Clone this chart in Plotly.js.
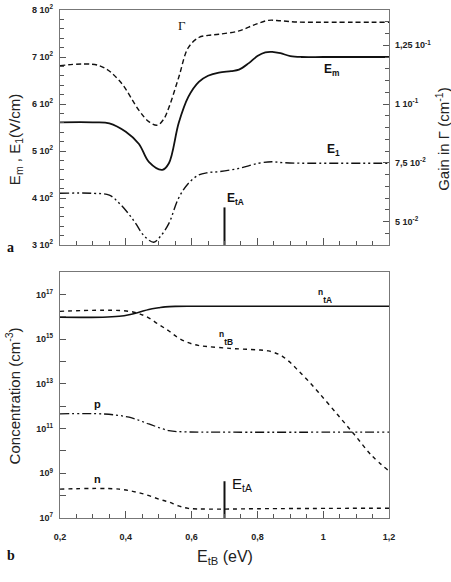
<!DOCTYPE html>
<html><head><meta charset="utf-8">
<script src="https://cdn.plot.ly/plotly-3.0.1.min.js"></script>
<style>html,body{margin:0;padding:0;background:#fff;}#chart{width:451px;height:582px;}</style>
</head><body><div id="chart"></div>
<script>
// ---- Panel a data ----
const emX = [0.2,0.3,0.35,0.4,0.44,0.47,0.511,0.531,0.561,0.59,0.622,0.65,0.683,0.72,0.744,0.774,0.80,0.824,0.845,0.87,0.9,0.934,1.0,1.1,1.2];
const emY = [561,561,559,541,515,477,460,474,560,615,647,660,667,670,673,687,702,710,711,708,702,700,700,700,700];
const gamX = [0.2,0.32,0.38,0.44,0.47,0.496,0.515,0.531,0.561,0.59,0.622,0.65,0.683,0.744,0.794,0.834,0.87,0.92,1.0,1.2];
const gamY = [0.1163,0.1163,0.110,0.0973,0.0925,0.091,0.0935,0.0985,0.1114,0.124,0.1283,0.1292,0.1297,0.1311,0.1339,0.1356,0.1354,0.1349,0.1348,0.1348];
const e1X = [0.2,0.3,0.35,0.38,0.41,0.43,0.455,0.485,0.505,0.531,0.56,0.59,0.622,0.65,0.683,0.744,0.804,0.844,0.88,0.95,1.2];
const e1Y = [410,410,406,389,365,346,320,306,318,346,399,431,449,454,456,463,474,477,475,474,474];
const etA = 0.7;
const etAMarkTop = [300,380];
// ---- Panel b data ----
const ntAX = [0.2,0.33,0.38,0.41,0.44,0.47,0.5,0.52,0.55,0.6,0.8,1.0,1.2];
const ntAY = [9.5e15,9.5e15,1.05e16,1.23e16,1.58e16,2.1e16,2.5e16,2.75e16,2.9e16,2.95e16,2.95e16,2.95e16,2.95e16];
const ntBX = [0.2,0.41,0.46,0.5,0.531,0.56,0.59,0.62,0.65,0.7,0.733,0.8,0.834,0.864,0.875,0.9,0.925,0.95,0.986,1.046,1.097,1.147,1.2];
const ntBY = [1.74e16,1.74e16,1.05e16,4.5e15,2.3e15,1.12e15,6.9e14,5.2e14,4.6e14,4.0e14,3.7e14,3.3e14,2.95e14,2.1e14,1.74e14,8.9e13,3.8e13,1.6e13,4.1e12,3.8e11,4.9e10,6.3e9,1.26e9];
const pX = [0.2,0.33,0.41,0.47,0.531,0.58,0.65,1.2];
const pY = [4.5e11,4.5e11,3.2e11,1.6e11,8.1e10,7.1e10,6.9e10,6.9e10];
const nX = [0.2,0.38,0.45,0.51,0.531,0.56,0.59,0.65,0.8,1.2];
const nY = [1.95e8,1.95e8,1.23e8,6.3e7,5.2e7,3.5e7,2.7e7,2.5e7,2.6e7,2.75e7];
const etAMarkBot = [1e7,4.4e8];
// ---- Tick labels ----
const leftTickVals = [300,400,500,600,700,800];
const leftTickText = ['3 10<sup>2</sup>','4 10<sup>2</sup>','5 10<sup>2</sup>','6 10<sup>2</sup>','7 10<sup>2</sup>','8 10<sup>2</sup>'];
const rightTickVals = [0.05,0.075,0.1,0.125];
const rightTickText = ['5 10<sup>-2</sup>','7,5 10<sup>-2</sup>','1 10<sup>-1</sup>','1,25 10<sup>-1</sup>'];
const xTickVals = [0.2,0.4,0.6,0.8,1.0,1.2];
const xTickText = ['0,2','0,4','0,6','0,8','1','1,2'];
const concTickVals = [1e7,1e8,1e9,1e10,1e11,1e12,1e13,1e14,1e15,1e16,1e17,1e18];
const concTickText = ['10<sup>7</sup>','','10<sup>9</sup>','','10<sup>11</sup>','','10<sup>13</sup>','','10<sup>15</sup>','','10<sup>17</sup>',''];

const K = '#111';
const dashDotDot = '9px,3px,2px,3px,2px,3px';
const traces = [
  {x: emX, y: emY, xaxis:'x', yaxis:'y', mode:'lines', line:{color:K, width:1.8, shape:'spline'}, name:'Em'},
  {x: e1X, y: e1Y, xaxis:'x', yaxis:'y', mode:'lines', line:{color:K, width:1.4, shape:'spline', dash:dashDotDot}, name:'E1'},
  {x: gamX, y: gamY, xaxis:'x', yaxis:'y2', mode:'lines', line:{color:K, width:1.4, shape:'spline', dash:'5px,3px'}, name:'Gamma'},
  {x: [etA,etA], y: etAMarkTop, xaxis:'x', yaxis:'y', mode:'lines', line:{color:K, width:2}, name:'EtA'},
  {x: ntAX, y: ntAY, xaxis:'x2', yaxis:'y3', mode:'lines', line:{color:K, width:1.6, shape:'spline'}, name:'ntA'},
  {x: ntBX, y: ntBY, xaxis:'x2', yaxis:'y3', mode:'lines', line:{color:K, width:1.4, shape:'spline', dash:'4px,4px'}, name:'ntB'},
  {x: pX, y: pY, xaxis:'x2', yaxis:'y3', mode:'lines', line:{color:K, width:1.3, shape:'spline', dash:dashDotDot}, name:'p'},
  {x: nX, y: nY, xaxis:'x2', yaxis:'y3', mode:'lines', line:{color:K, width:1.4, shape:'spline', dash:'4px,4px'}, name:'n'},
  {x: [etA,etA], y: etAMarkBot, xaxis:'x2', yaxis:'y3', mode:'lines', line:{color:K, width:2}, name:'EtA b'}
];

const tickFont = {family:'Liberation Sans, Arial, sans-serif', size:9, color:'#222', weight:'bold'};
const axCommon = {showgrid:false, zeroline:false, showline:true, linecolor:'#777', linewidth:1.2, ticks:'inside', tickcolor:'#555', tickwidth:1, tickfont:tickFont};
const lblFont = {family:'Liberation Sans, Arial', size:12, color:K};

const layout = {
  width:451, height:582,
  margin:{l:60, r:62, t:10, b:64},
  paper_bgcolor:'#fff', plot_bgcolor:'#fff',
  showlegend:false,
  xaxis: Object.assign({}, axCommon, {domain:[0,1], range:[0.2,1.2], anchor:'y', mirror:true, tickvals:xTickVals, ticklen:7, showticklabels:false,
    minor:{dtick:0.05, tick0:0.2, ticks:'inside', ticklen:4, tickcolor:'#555'}}),
  yaxis: Object.assign({}, axCommon, {domain:[0.5374,1], range:[300,800], anchor:'x', tickvals:leftTickVals, ticktext:leftTickText, ticklen:6, ticklabelstandoff:4,
    minor:{dtick:20, tick0:300, ticks:'inside', ticklen:4, tickcolor:'#555'}}),
  yaxis2: Object.assign({}, axCommon, {overlaying:'y', side:'right', range:[0.04,0.14], anchor:'x', tickvals:rightTickVals, ticktext:rightTickText, ticklen:6, ticklabelstandoff:3,
    minor:{dtick:0.005, tick0:0.04, ticks:'inside', ticklen:4, tickcolor:'#555'}}),
  xaxis2: Object.assign({}, axCommon, {domain:[0,1], range:[0.2,1.2], anchor:'y3', mirror:true, tickvals:xTickVals, ticktext:xTickText, ticklen:7, ticklabelstandoff:10,
    minor:{dtick:0.05, tick0:0.2, ticks:'inside', ticklen:4, tickcolor:'#555'}}),
  yaxis3: Object.assign({}, axCommon, {domain:[0,0.4843], type:'log', range:[7,18], anchor:'x2', mirror:true, tickvals:concTickVals, ticktext:concTickText, ticklen:6, ticklabelstandoff:4}),
  annotations: [
    {xref:'x', yref:'y', x:0.571, y:768, text:'Γ', showarrow:false, font:{family:'Liberation Serif, serif', size:13, color:K}},
    {xref:'x', yref:'y', x:1.025, y:672, text:'<b>E<sub>m</sub></b>', showarrow:false, font:lblFont},
    {xref:'x', yref:'y', x:1.031, y:502, text:'<b>E<sub>1</sub></b>', showarrow:false, font:lblFont},
    {xref:'x', yref:'y', x:0.7, y:398, xanchor:'left', text:'<b>E<sub>tA</sub></b>', showarrow:false, font:lblFont},
    {xref:'x2', yref:'y3', x:1.006, y:16.92, text:'<b><sup>n</sup><sub>tA</sub></b>', showarrow:false, font:lblFont},
    {xref:'x2', yref:'y3', x:0.704, y:15.06, text:'<b><sup>n</sup><sub>tB</sub></b>', showarrow:false, font:lblFont},
    {xref:'x2', yref:'y3', x:0.313, y:12.09, text:'<b>p</b>', showarrow:false, font:{family:'Liberation Sans, Arial', size:11, color:K}},
    {xref:'x2', yref:'y3', x:0.313, y:8.75, text:'<b>n</b>', showarrow:false, font:{family:'Liberation Sans, Arial', size:11, color:K}},
    {xref:'x2', yref:'y3', x:0.718, y:8.5, xanchor:'left', text:'E<sub>tA</sub>', showarrow:false, font:{family:'Liberation Sans, Arial', size:15, color:K}},
    {xref:'paper', yref:'paper', x:-0.135, y:0.745, xanchor:'center', yanchor:'middle', text:'E<sub>m</sub> , E<sub>1</sub>(V/cm)', textangle:-90, showarrow:false, font:{family:'Liberation Sans, Arial', size:15, color:'#222'}},
    {xref:'paper', yref:'paper', x:1.162, y:0.745, xanchor:'center', yanchor:'middle', text:'Gain in Γ (cm<sup>-1</sup>)', textangle:-90, showarrow:false, font:{family:'Liberation Sans, Arial', size:15, color:'#222'}},
    {xref:'paper', yref:'paper', x:-0.145, y:0.24, xanchor:'center', yanchor:'middle', text:'Concentration (cm<sup>-3</sup>)', textangle:-90, showarrow:false, font:{family:'Liberation Sans, Arial', size:15, color:'#222'}},
    {xref:'paper', yref:'paper', x:0.5, y:-0.078, xanchor:'center', yanchor:'middle', text:'E<sub>tB</sub> (eV)', showarrow:false, font:{family:'Liberation Sans, Arial', size:16, color:'#222'}},
    {xref:'paper', yref:'paper', x:-0.168, y:0.532, xanchor:'left', yanchor:'middle', text:'<b>a</b>', showarrow:false, font:{family:'Liberation Serif, serif', size:14, color:K}},
    {xref:'paper', yref:'paper', x:-0.168, y:-0.073, xanchor:'left', yanchor:'middle', text:'<b>b</b>', showarrow:false, font:{family:'Liberation Serif, serif', size:14, color:K}}
  ]
};
Plotly.newPlot('chart', traces, layout, {staticPlot:true, displayModeBar:false});
</script>
</body></html>
